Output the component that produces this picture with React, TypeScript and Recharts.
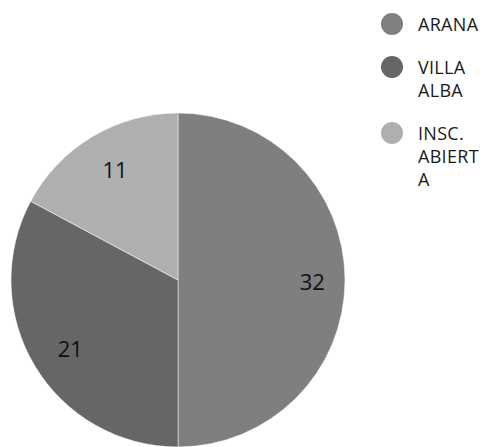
import React from "react";
import { PieChart, Pie, Cell, Legend } from "recharts";

const categories = ["ARANA", "VILLA ALBA", "INSC. ABIERTA"];
const values = [32, 21, 11];
const colors = ["#7f7f7f", "#666666", "#afafaf"];

const data = categories.map((name, i) => ({ name, value: values[i] }));

const FONT = "'Open Sans', 'DejaVu Sans', sans-serif";
const RADIAN = Math.PI / 180;

// wrap legend text at max 6 characters per line (breaks words when needed)
function wrap(text: string, max: number): string[] {
  const out: string[] = [];
  for (const word of text.split(" ")) {
    let w = word;
    while (w.length > max) {
      out.push(w.slice(0, max));
      w = w.slice(max);
    }
    if (w.length) out.push(w);
  }
  return out;
}

const renderLabel = (props: any) => {
  const { cx, cy, midAngle, outerRadius, value } = props;
  const r = outerRadius * 0.78;
  const x = cx + r * Math.cos(-midAngle * RADIAN) + 4;
  const y = cy + r * Math.sin(-midAngle * RADIAN) + 1;
  return (
    <text
      x={x}
      y={y}
      fill="#111"
      textAnchor="middle"
      dominantBaseline="central"
      fontFamily={FONT}
      fontSize={22}
    >
      {value}
    </text>
  );
};

const LegendContent = () => (
  <div style={{ fontFamily: FONT, fontSize: 18, color: "#1a1a1a", letterSpacing: 0.3 }}>
    {categories.map((c, i) => {
      const lines = wrap(c, 6);
      return (
        <div key={c} style={{ display: "flex", alignItems: "flex-start", marginBottom: 20 }}>
          <div
            style={{
              width: 22,
              height: 22,
              borderRadius: "50%",
              background: colors[i],
              marginTop: 0.5,
              marginRight: 15,
              flex: "none",
            }}
          />
          <div style={{ lineHeight: "23px", whiteSpace: "nowrap" }}>
            {lines.map((l, j) => (
              <div key={j}>{l}</div>
            ))}
          </div>
        </div>
      );
    })}
  </div>
);

export default function App() {
  return (
    <PieChart width={491} height={447}>
      <Pie
        data={data}
        dataKey="value"
        nameKey="name"
        cx={165}
        cy={267}
        outerRadius={167}
        startAngle={90}
        endAngle={-270}
        stroke="#ffffff"
        strokeWidth={0.5}
        label={renderLabel}
        labelLine={false}
        isAnimationActive={false}
      >
        {data.map((d, i) => (
          <Cell key={d.name} fill={colors[i]} />
        ))}
      </Pie>
      <Legend
        content={<LegendContent />}
        wrapperStyle={{ position: "absolute", top: 4.5, left: 373, width: 108 }}
      />
    </PieChart>
  );
}
